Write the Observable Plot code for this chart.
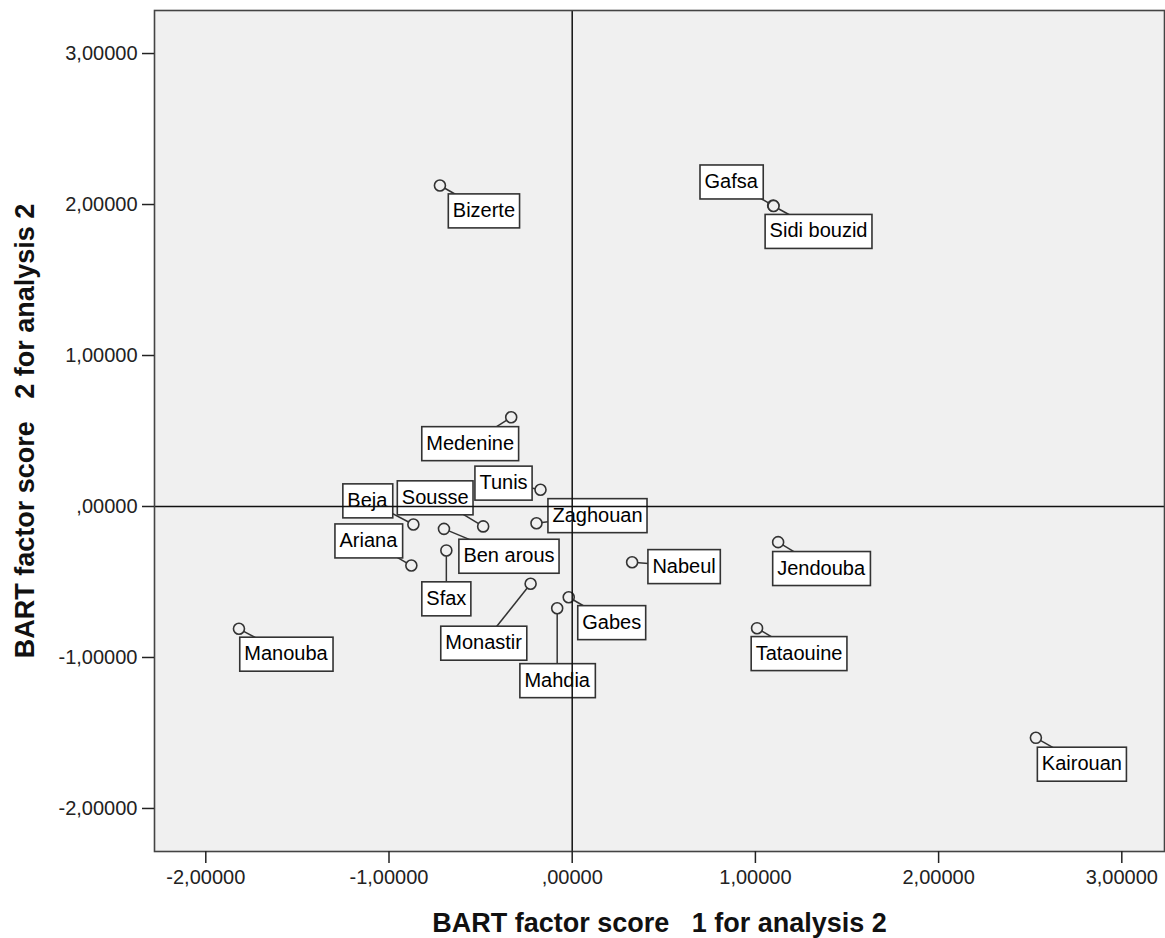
<!DOCTYPE html>
<html><head><meta charset="utf-8">
<script src="https://cdn.jsdelivr.net/npm/d3@7"></script>
<script src="https://cdn.jsdelivr.net/npm/@observablehq/plot@0.6"></script>
<style>
body{margin:0;background:#fff;}
svg text{white-space:pre;}
</style></head><body><div id="chart"></div>
<script>
// ---- data ----
const districts = ["Bizerte","Gafsa","Sidi bouzid","Medenine","Tunis","Zaghouan","Sousse","Beja","Ariana","Ben arous","Sfax","Nabeul","Jendouba","Monastir","Mahdia","Gabes","Tataouine","Manouba","Kairouan"];
const score1 = [-0.722, 1.097, 1.099, -0.333, -0.173, -0.195, -0.486, -0.867, -0.878, -0.700, -0.687, 0.327, 1.124, -0.227, -0.082, -0.019, 1.009, -1.819, 2.531];
const score2 = [2.126, 1.993, 1.990, 0.591, 0.111, -0.111, -0.132, -0.119, -0.391, -0.148, -0.291, -0.369, -0.236, -0.512, -0.674, -0.601, -0.806, -0.810, -1.532];
const xTicks = [-2, -1, 0, 1, 2, 3];
const yTicks = [-2, -1, 0, 1, 2, 3];
const xTitle = "BART factor score   1 for analysis 2";
const yTitle = "BART factor score   2 for analysis 2";

// ---- label placement (pixel offsets of label centre from its point) ----
const labelDx = [44, -42, 45, -41, -37, 61, -48, -46, -43, 65, 0, 52, 43, -47, 0, 43, 42, 47, 46];
const labelDy = [25, -24, 25, 26, -7, -8, -29, -24, -25, 27, 48, 4, 26, 59, 72, 25, 25, 25, 26];

// ---- layout ----
const W = 1165, H = 938;
const M = {top: 10, right: 1, bottom: 87, left: 154};
const xDomain = [-2.280, 3.233];
const yDomain = [-2.285, 3.285];
const font = "'Liberation Sans', Arial, sans-serif";

const xs = Plot.scale({x: {type: "linear", domain: xDomain, range: [M.left, W - M.right]}});
const ys = Plot.scale({y: {type: "linear", domain: yDomain, range: [H - M.bottom, M.top]}});

const data = districts.map((name, i) => {
  const px = xs.apply(score1[i]) + labelDx[i];
  const py = ys.apply(score2[i]) + labelDy[i];
  return {name, x: score1[i], y: score2[i], lx: xs.invert(px), ly: ys.invert(py)};
});

const fmt = d => {
  if (d === 0) return ",00000";
  return d.toFixed(5).replace(".", ",");
};

const chart = Plot.plot({
  width: W, height: H,
  marginTop: M.top, marginRight: M.right, marginBottom: M.bottom, marginLeft: M.left,
  style: {fontFamily: font, background: "#fff", overflow: "visible"},
  x: {domain: xDomain, ticks: xTicks, tickFormat: fmt, label: null},
  y: {domain: yDomain, ticks: yTicks, tickFormat: fmt, label: null},
  marks: [
    Plot.frame({fill: "#f0f0f0"}),
    Plot.link(data, {x1: "x", y1: "y", x2: "lx", y2: "ly", stroke: "#333", strokeWidth: 1.5}),
    Plot.dot(data, {x: "x", y: "y", r: 5.5, fill: "#f0f0f0", stroke: "#333", strokeWidth: 1.6}),
    Plot.text(data, {x: "lx", y: "ly", text: "name", fontSize: 20, fill: "#000"}),
    Plot.ruleX([0], {stroke: "#111", strokeWidth: 1.5}),
    Plot.ruleY([0], {stroke: "#111", strokeWidth: 1.5}),
    Plot.frame({stroke: "#444", strokeWidth: 1.6}),
    Plot.axisX({ticks: xTicks, tickFormat: fmt, tickSize: 12, tickPadding: 6, fontSize: 20, stroke: "#222", strokeWidth: 1.5, fill: "#222", label: null}),
    Plot.axisY({ticks: yTicks, tickFormat: fmt, tickSize: 12, tickPadding: 5, fontSize: 20, stroke: "#222", strokeWidth: 1.5, fill: "#222", label: null}),
    Plot.text([xTitle], {frameAnchor: "bottom", textAnchor: "middle", lineAnchor: "middle", dy: 71.5, fontSize: 27, fontWeight: "bold", fill: "#111"}),
    Plot.text([yTitle], {frameAnchor: "left", textAnchor: "middle", lineAnchor: "middle", dx: -129.5, rotate: -90, fontSize: 27, fontWeight: "bold", fill: "#111"})
  ]
});
document.getElementById("chart").appendChild(chart);

// boxes behind the place labels
const ns = "http://www.w3.org/2000/svg";
const nameSet = new Set(districts);
const labelTexts = Array.from(chart.querySelectorAll("text")).filter(t => nameSet.has(t.textContent));
for (const t of labelTexts) {
  const bb = t.getBBox();
  const w = bb.width + 9, h = 34;
  const cx = bb.x + bb.width / 2;
  const cy = bb.y + bb.height / 2 + 1;
  const r = document.createElementNS(ns, "rect");
  r.setAttribute("x", cx - w / 2);
  r.setAttribute("y", cy - h / 2);
  r.setAttribute("width", w);
  r.setAttribute("height", h);
  r.setAttribute("fill", "#fff");
  r.setAttribute("stroke", "#333");
  r.setAttribute("stroke-width", "1.6");
  if (t.getAttribute("transform")) r.setAttribute("transform", t.getAttribute("transform"));
  const p = t.parentNode;
  p.insertBefore(r, p.querySelector("text"));
}
</script></body></html>
